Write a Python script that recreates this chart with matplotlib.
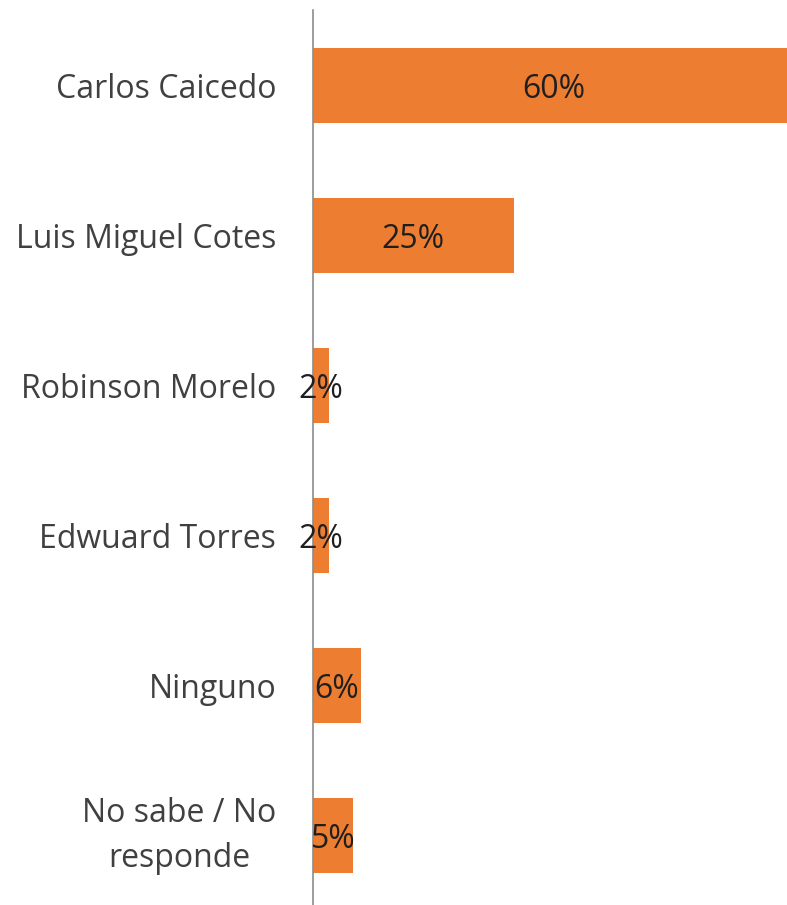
import matplotlib
matplotlib.use("Agg")
import matplotlib.pyplot as plt

categories = ["Carlos Caicedo", "Luis Miguel Cotes", "Robinson Morelo",
              "Edwuard Torres", "Ninguno", "No sabe / No\nresponde"]
values = [60, 25, 2, 2, 6, 5]
value_labels = ["60%", "25%", "2%", "2%", "6%", "5%"]

W, H = 787, 905
fig = plt.figure(figsize=(W / 100, H / 100), dpi=100)
ax = fig.add_axes([313 / W, -6 / H, 1 - 313 / W, 901 / H])

bar_color = "#ED7D31"
ypos = list(range(len(categories)))
ax.barh(ypos, values, height=0.5, color=bar_color)

ax.set_xlim(0, 59.0)
ax.set_ylim(len(categories) - 0.5, -0.5)

for y, v, lab in zip(ypos, values, value_labels):
    ax.text(v / 2, y, lab, ha="center", va="center_baseline", fontsize=23,
            family="Open Sans", color="#1f1f1f")

ax.set_yticks(ypos)
ax.set_yticklabels(categories, fontsize=23, family="Open Sans",
                   color="#404040", linespacing=1.5)
for t in ax.get_yticklabels():
    t.set_horizontalalignment("right")
    t.set_multialignment("center")
    if "\n" in t.get_text():
        t.set_verticalalignment("center")
ax.tick_params(axis="y", length=0, pad=26.5)
ax.set_xticks([])

for s in ["top", "right", "bottom"]:
    ax.spines[s].set_visible(False)
ax.spines["left"].set_color("#8c8c8c")
ax.spines["left"].set_linewidth(1.2)

fig.savefig("out.png", dpi=100)
